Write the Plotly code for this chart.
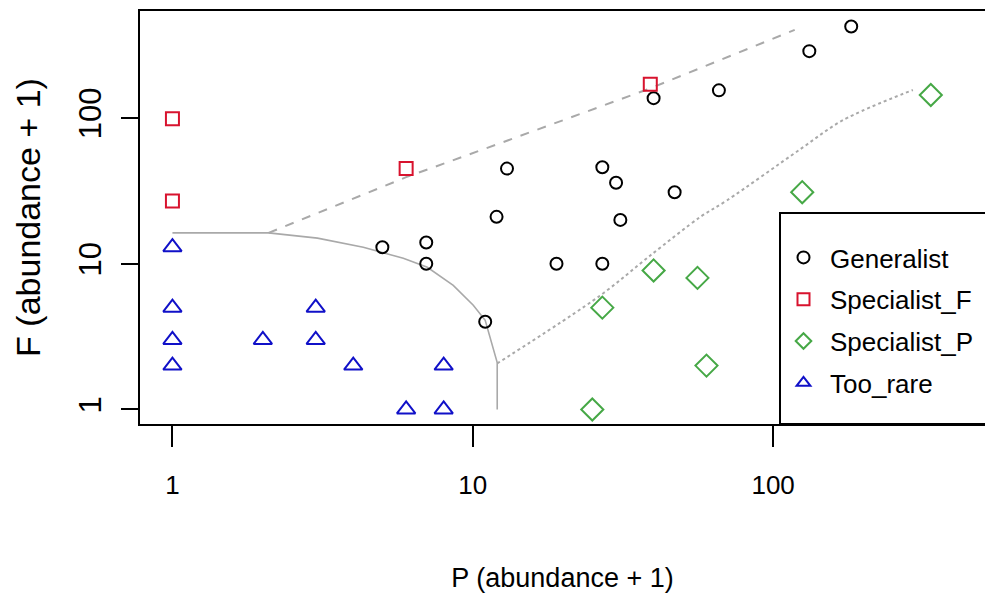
import plotly.graph_objects as go

# ---- data (P = x, F = y; abundance + 1) ----
gen_P = [5, 7, 7, 11, 12, 13, 19, 27, 30, 31, 27, 47, 40, 66, 132, 182]
gen_F = [13, 14, 10, 4, 21, 45, 10, 46, 36, 20, 10, 31, 137, 155, 288, 425]
spF_P = [1, 1, 6, 39]
spF_F = [99, 27, 45, 171]
spP_P = [335, 125, 40, 56, 27, 60, 25]
spP_F = [144, 31, 9, 8, 5, 2, 1]
rare_P = [1, 1, 1, 1, 2, 3, 3, 4, 8, 6, 8]
rare_F = [13, 5, 3, 2, 3, 5, 3, 2, 2, 1, 1]

# boundary curves
solid_P = [1, 2.09, 3.04, 4.32, 5.87, 7.06, 8.61, 10.04, 11.0, 11.7, 12.06, 12.06]
solid_F = [16.3, 16.3, 15.0, 13.0, 10.9, 9.46, 7.11, 5.19, 4.09, 2.67, 2.10, 1.0]
dash_P = [2.09, 6.0, 12.35, 39, 118]
dash_F = [16.3, 39.3, 67.3, 160, 403]
dot_P = [12.06, 26.6, 39, 57.1, 70.3, 123, 171, 292]
dot_F = [2.07, 6.07, 11.4, 20.9, 27.3, 61, 96.9, 156]

tick_vals = [1, 10, 100]
tick_text = ["1", "10", "100"]

GRAY = "#A9A9A9"
FONT = "Liberation Sans, Arial, sans-serif"

W, H = 985, 594
ML, MT, MB = 140, 11, 170
PW, PH = W - ML, H - MT - MB

fig = go.Figure()
fig.add_trace(go.Scatter(x=solid_P, y=solid_F, mode="lines", showlegend=False,
                         line=dict(color=GRAY, width=1.6), hoverinfo="skip"))
fig.add_trace(go.Scatter(x=dash_P, y=dash_F, mode="lines", showlegend=False,
                         line=dict(color=GRAY, width=2, dash="dash"), hoverinfo="skip"))
fig.add_trace(go.Scatter(x=dot_P, y=dot_F, mode="lines", showlegend=False,
                         line=dict(color=GRAY, width=2, dash="dot", shape="spline", smoothing=0.9),
                         hoverinfo="skip"))

fig.add_trace(go.Scatter(x=gen_P, y=gen_F, mode="markers", name="Generalist", legendgroup="a",
                         marker=dict(symbol="circle-open", size=12, color="black", line=dict(width=2))))
fig.add_trace(go.Scatter(x=spF_P, y=spF_F, mode="markers", name="Specialist_F", legendgroup="b",
                         marker=dict(symbol="square-open", size=13, color="#D8132E", line=dict(width=2))))
fig.add_trace(go.Scatter(x=spP_P, y=spP_F, mode="markers", name="Specialist_P", legendgroup="c",
                         marker=dict(symbol="diamond-open", size=17, color="#46A846", line=dict(width=2))))
fig.add_trace(go.Scatter(x=rare_P, y=rare_F, mode="markers", name="Too_rare", legendgroup="d",
                         marker=dict(symbol="triangle-up-open", size=16, color="#1010C8", line=dict(width=2))))

# legend box (extends past the right edge like the reference)
box_left = (780 - ML) / PW
box_top = 1 - (213 - MT) / PH
fig.add_shape(type="rect", xref="paper", yref="paper", x0=box_left, x1=1.2, y0=0, y1=box_top,
              line=dict(color="black", width=2), fillcolor="white", layer="above")

fig.update_layout(
    width=W, height=H,
    margin=dict(l=ML, r=0, t=MT, b=MB, autoexpand=False),
    plot_bgcolor="white", paper_bgcolor="white",
    font=dict(family=FONT, color="black", size=26),
    showlegend=True,
    legend=dict(x=(777 - ML) / PW, y=1 - (234 - MT) / PH, xanchor="left", yanchor="top",
                borderwidth=0, bgcolor="rgba(0,0,0,0)",
                font=dict(family=FONT, size=26, color="black"),
                tracegroupgap=5, itemsizing="constant", itemwidth=43),
    xaxis=dict(type="log", range=[-0.108, 2.7055], tickvals=tick_vals, ticktext=tick_text,
               showgrid=False, zeroline=False, showline=True, mirror=True,
               linecolor="black", linewidth=2, ticks="outside", ticklen=21, tickwidth=2,
               tickcolor="black", tickfont=dict(family=FONT, size=26),
               ticklabelstandoff=16,
               title=dict(text="P (abundance + 1)", font=dict(family=FONT, size=27), standoff=69)),
    yaxis=dict(type="log", range=[-0.0997, 2.735], tickvals=tick_vals, ticktext=tick_text,
               showgrid=False, zeroline=False, showline=True, mirror=False,
               linecolor="black", linewidth=2, ticks="outside", ticklen=17, tickwidth=2,
               tickcolor="black", tickangle=-90, tickfont=dict(family=FONT, size=31),
               ticklabelstandoff=8,
               title=dict(text="F (abundance + 1)", font=dict(family=FONT, size=34), standoff=22)),
)

fig.write_html("out.html", config={"displayModeBar": False},
               post_script="document.body.style.margin='0';document.body.style.overflow='hidden';")
